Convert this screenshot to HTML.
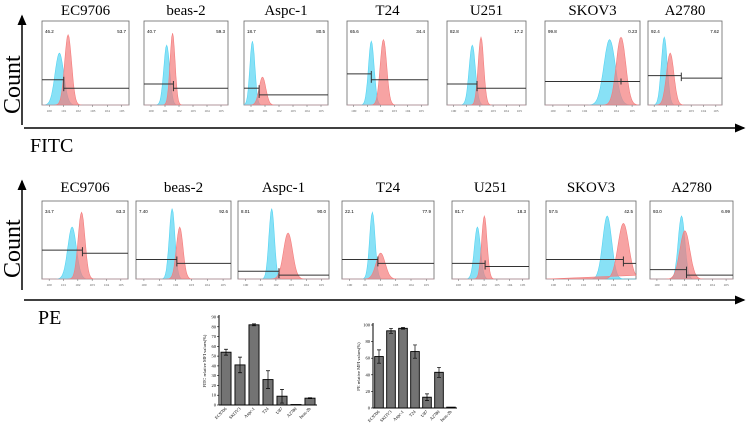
<!DOCTYPE html>
<html><head><meta charset="utf-8">
<style>
body{margin:0;background:#fff;}
svg{display:block;font-family:"Liberation Serif",serif;}
</style></head>
<body>
<svg id="fig" width="750" height="425" viewBox="0 0 750 425" xmlns="http://www.w3.org/2000/svg">
<defs>
<marker id="ah" markerWidth="8" markerHeight="8" refX="6" refY="4" orient="auto"><path d="M0,1 L7,4 L0,7 Z" fill="#000"/></marker>
</defs>
<g id="frame">
<line x1="22" y1="125" x2="22" y2="16" stroke="#000" stroke-width="1.5" marker-end="url(#ah)"/>
<line x1="24" y1="128" x2="744" y2="128" stroke="#000" stroke-width="1.5" marker-end="url(#ah)"/>
<text x="20" y="114" font-size="24" transform="rotate(-90 20 114)">Count</text>
<text x="30" y="152" font-size="20">FITC</text>
<line x1="22" y1="290" x2="22" y2="181" stroke="#000" stroke-width="1.5" marker-end="url(#ah)"/>
<line x1="24" y1="300" x2="744" y2="300" stroke="#000" stroke-width="1.5" marker-end="url(#ah)"/>
<text x="20" y="278" font-size="24" transform="rotate(-90 20 278)">Count</text>
<text x="38" y="324" font-size="20">PE</text>
</g>
<g id="panels"></g>
<g id="bars"></g>
</svg>
<script>
const NS="http://www.w3.org/2000/svg";
function mk(tag,attrs,parent){const e=document.createElementNS(NS,tag);for(const k in attrs)e.setAttribute(k,attrs[k]);parent.appendChild(e);return e;}
const row1Names=["EC9706","beas-2","Aspc-1","T24","U251","SKOV3","A2780"];
const row1X=[42,144,244,347,447,545,648];
const row1W=[87,84,84,81,79,95,74];
const row1Blue=[[0.2,0.65,0.05],[0.27,0.75,0.035],[0.1,0.8,0.03],[0.3,0.8,0.035],[0.32,0.75,0.04],[0.68,0.82,0.06],[0.22,0.85,0.04]];
const row1Red=[[0.3,0.88,0.04],[0.34,0.9,0.03],[0.22,0.35,0.04],[0.45,0.82,0.04],[0.43,0.85,0.035],[0.8,0.85,0.05],[0.3,0.65,0.05]];
const row1Gate=[[0.25,0.3,0.2],[0.35,0.25,0.2],[0.18,0.2,0.12],[0.3,0.37,0.3],[0.38,0.25,0.2],[0.8,0.28,0.28],[0.45,0.35,0.32]];
const row1Pct=[["46.2","53.7"],["40.7","59.3"],["18.7","80.5"],["65.6","34.4"],["82.8","17.2"],["99.8","0.23"],["92.4","7.62"]];
const row2Names=["EC9706","beas-2","Aspc-1","T24","U251","SKOV3","A2780"];
const row2X=[42,136,238,342,452,546,650];
const row2W=[86,95,91,92,77,90,83];
const row2Blue=[[0.35,0.7,0.05],[0.38,0.95,0.03],[0.37,0.95,0.03],[0.33,0.9,0.03],[0.33,0.7,0.04],[0.68,0.85,0.05],[0.38,0.85,0.04]];
const row2Red=[[0.46,0.9,0.04],[0.46,0.7,0.035],[0.55,0.62,0.05],[0.42,0.35,0.05],[0.42,0.85,0.035],[0.86,0.75,0.06],[0.42,0.65,0.06]];
const row2Gate=[[0.47,0.37,0.33],[0.43,0.25,0.2],[0.45,0.1,0.05],[0.39,0.25,0.2],[0.43,0.2,0.16],[0.86,0.25,0.2],[0.44,0.12,0.05]];
const row2Pct=[["34.7","63.3"],["7.40","92.6"],["8.01","90.0"],["22.1","77.9"],["81.7","18.3"],["57.5","42.5"],["93.0","6.99"]];
const P=document.getElementById('panels');
function gauss(x,mu,s){return Math.exp(-(x-mu)*(x-mu)/(2*s*s));}
function drawRow(names,xs,ws,blue,red,gate,pct,y0,h,ty,rowName){
  for(let i=0;i<names.length;i++){
    const g=mk('g',{},P);
    
    
    const x=xs[i],w=ws[i];
    const t=mk('text',{x:x+w/2,y:ty,'font-size':15,'text-anchor':'middle'},g);t.textContent=names[i];
    
    
    const box=mk('rect',{x:x,y:y0,width:w,height:h,fill:'#fff',stroke:'#666','stroke-width':0.8},g);
    
    
    [[blue[i],'#55d4f2'],[red[i],'#f47c7c']].forEach(([p,c],k)=>{
      let d='M'+x+','+(y0+h);
      for(let j=0;j<=100;j++){const f=j/100;const v=p[1]*gauss(f,p[0],p[2]);d+=' L'+(x+f*w).toFixed(1)+','+(y0+h-v*h*0.95).toFixed(1);}
      d+=' Z';
      const pa=mk('path',{d:d,fill:c,'fill-opacity':0.7,stroke:c,'stroke-width':0.6},g);
      
      
    });
    const gx=x+gate[i][0]*w,gy1=y0+h-gate[i][1]*h,gy2=y0+h-gate[i][2]*h;
    const l1=mk('line',{x1:x,y1:gy1,x2:gx,y2:gy1,stroke:'#333','stroke-width':1},g);
    
    
    const l2=mk('line',{x1:gx,y1:gy2,x2:x+w,y2:gy2,stroke:'#333','stroke-width':1},g);
    
    
    mk('line',{x1:gx,y1:Math.min(gy1,gy2)-3,x2:gx,y2:Math.max(gy1,gy2)+3,stroke:'#333','stroke-width':1},g);
    const a=mk('text',{x:x+3,y:y0+12,'font-size':4.5,'font-family':'Liberation Sans'},g);a.textContent=pct[i][0];
    
    
    const b=mk('text',{x:x+w-3,y:y0+12,'font-size':4.5,'text-anchor':'end','font-family':'Liberation Sans'},g);b.textContent=pct[i][1];
    
    
    for(let k=0;k<6;k++){mk('line',{x1:x+w*(k+0.5)/6,y1:y0+h,x2:x+w*(k+0.5)/6,y2:y0+h+2,stroke:'#666','stroke-width':0.5},g);
      mk('text',{x:x+w*(k+0.5)/6,y:y0+h+7,'font-size':3.5,'text-anchor':'middle',fill:'#555'},g).textContent='10'+k;}
  }
}
drawRow(row1Names,row1X,row1W,row1Blue,row1Red,row1Gate,row1Pct,21,84,15,'fitc');
drawRow(row2Names,row2X,row2W,row2Blue,row2Red,row2Gate,row2Pct,201,78,192,'pe');

const barCats=["EC9706","SKOV3","Aspc-1","T24","U87","A2780","beas-2b"];
const fitcVals=[54,41,82,26,9,0.5,7];
const fitcErr=[3,8,1,9,7,0,0.5];
const fitcTicks=[0,10,20,30,40,50,60,70,80,90];
const peVals=[62,93,96,68,13,43,1];
const peErr=[8,3,1,8,4,6,0];
const peTicks=[0,20,40,60,80,100];
const B=document.getElementById('bars');
function barChart(vals,errs,ticks,ymax,x0,x1,yTop,yBot,title,name){
  const g=mk('g',{},B);
  
  
  const ys=v=>yBot-(v/ymax)*(yBot-yTop);
  const band=(x1-x0)/vals.length;
  mk('line',{x1:x0,y1:yTop-2,x2:x0,y2:yBot,stroke:'#000','stroke-width':1},g);
  mk('line',{x1:x0,y1:yBot,x2:x1,y2:yBot,stroke:'#000','stroke-width':1},g);
  ticks.forEach(t=>{mk('line',{x1:x0-2,y1:ys(t),x2:x0,y2:ys(t),stroke:'#000','stroke-width':0.6},g);
    const tx=mk('text',{x:x0-3,y:ys(t)+1.5,'font-size':4.5,'text-anchor':'end'},g);tx.textContent=t;
    
    });
  const yt=mk('text',{x:0,y:0,'font-size':4.5,'text-anchor':'middle',transform:`translate(${x0-13},${(yTop+yBot)/2}) rotate(-90)`},g);yt.textContent=title;
  
  
  vals.forEach((v,i)=>{
    const cx=x0+band*(i+0.5),bw=band*0.72;
    const r=mk('rect',{x:cx-bw/2,y:ys(v),width:bw,height:yBot-ys(v),fill:'#737373',stroke:'#000','stroke-width':0.9},g);
    
    
    if(errs[i]>0){const e=mk('path',{d:`M${cx},${ys(v+errs[i])} V${ys(v-errs[i])} M${cx-2},${ys(v+errs[i])} H${cx+2} M${cx-2},${ys(v-errs[i])} H${cx+2}`,stroke:'#000','stroke-width':0.7,fill:'none'},g);
      
      }
    const l=mk('text',{x:0,y:0,'font-size':4.5,'text-anchor':'end',transform:`translate(${cx+1},${yBot+4}) rotate(-45)`},g);l.textContent=barCats[i];
    
    
  });
}
barChart(fitcVals,fitcErr,fitcTicks,90,219,317,317,405,'FITC relative MFI values(%)','fitc-bar-chart');
barChart(peVals,peErr,peTicks,100,373,457,325,408,'PE relative MFI values(%)','pe-bar-chart');
</script>
</body></html>
